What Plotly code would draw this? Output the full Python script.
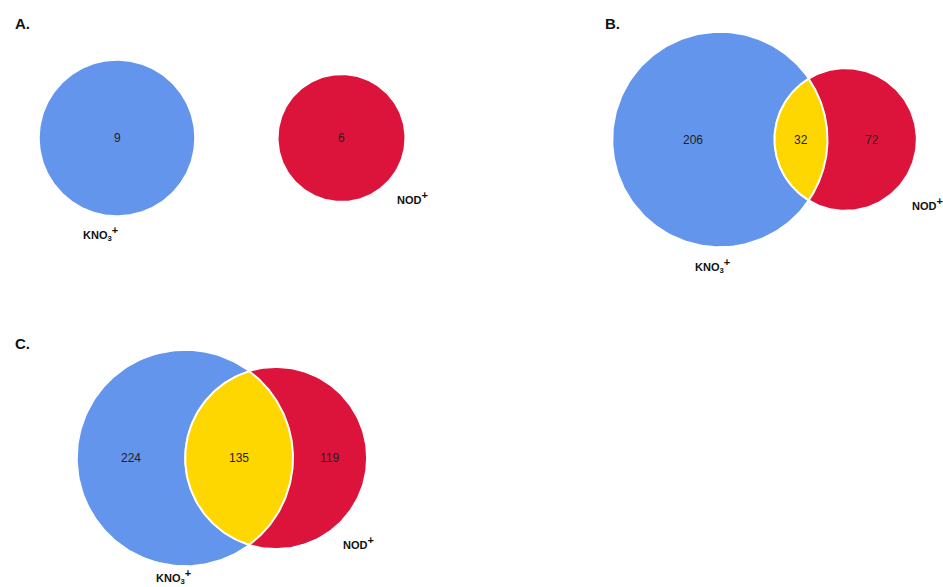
import numpy as np
import plotly.graph_objects as go

# ---------------- data ----------------
panel_letters = ["A.", "B.", "C."]
kno3_only = [9, 206, 224]
overlap = [0, 32, 135]
nod_only = [6, 72, 119]
PLUS = "<sup><span style='font-size:11px'>+</span></sup>"
set_names = ["KNO<sub>3</sub>" + PLUS, "NOD" + PLUS]

# ---------------- layout / style ----------------
W, H = 943, 587
BLUE, RED, GOLD = "#6495ED", "#DC143C", "#FFD700"
FONT = "Liberation Sans, Arial, sans-serif"

# center distances (px) between the two circles of each panel
panel_cfg = [
    dict(letter=(13, 23), center=(117, 138), r_big=78, dist=224.5,
         lab1=(-17, 95), lab2=(71, 59)),
    dict(letter=(603, 23), center=(720, 139.5), r_big=107.5, dist=125.5,
         lab1=(-8, 126), lab2=(82, 64)),
    dict(letter=(13, 343), center=(185, 458), r_big=108, dist=91,
         lab1=(-12, 118), lab2=(82, 84)),
]


def circle_xy(cx, cy, r, n=240):
    t = np.linspace(0, 2 * np.pi, n)
    return cx + r * np.cos(t), cy + r * np.sin(t)


fig = go.Figure()
annotations = []

for i, cfg in enumerate(panel_cfg):
    a_only, ab, b_only = kno3_only[i], overlap[i], nod_only[i]
    tot1, tot2 = a_only + ab, b_only + ab
    r1 = cfg["r_big"]
    scale = r1 / np.sqrt(tot1)          # area-proportional circles
    r2 = scale * np.sqrt(tot2)
    c1x, c1y = cfg["center"]
    d = cfg["dist"]
    c2x, c2y = c1x + d, c1y

    for (cx, cy, r, col) in [(c1x, c1y, r1, BLUE), (c2x, c2y, r2, RED)]:
        x, y = circle_xy(cx, cy, r)
        fig.add_trace(go.Scatter(x=x, y=y, mode="lines", fill="toself",
                                 fillcolor=col, line=dict(color="white", width=1.5),
                                 hoverinfo="skip", showlegend=False))

    if ab > 0 and d < r1 + r2:
        x0 = (d * d + r1 * r1 - r2 * r2) / (2 * d)
        h = np.sqrt(r1 * r1 - x0 * x0)
        al = np.arctan2(h, x0)
        be = np.arctan2(h, d - x0)
        t1 = np.linspace(-al, al, 120)
        t2 = np.linspace(np.pi - be, np.pi + be, 120)
        lx = np.concatenate([c1x + r1 * np.cos(t1), c2x + r2 * np.cos(t2)])
        ly = np.concatenate([c1y + r1 * np.sin(t1), c2y + r2 * np.sin(t2)])
        lx = np.append(lx, lx[0]); ly = np.append(ly, ly[0])
        fig.add_trace(go.Scatter(x=lx, y=ly, mode="lines", fill="toself",
                                 fillcolor=GOLD, line=dict(color="white", width=2),
                                 hoverinfo="skip", showlegend=False))
        lens_l, lens_r = c2x - r2, c1x + r1
        pos = [((c1x - r1 + lens_l) / 2, a_only),
               ((lens_l + lens_r) / 2, ab),
               ((lens_r + c2x + r2) / 2, b_only)]
    else:
        pos = [(c1x, a_only), (c2x, b_only)]

    for px, val in pos:
        annotations.append(dict(x=px, y=c1y, text=str(val), showarrow=False,
                                xref="x", yref="y",
                                font=dict(family=FONT, size=12, color="#222")))

    # set labels
    annotations.append(dict(x=c1x + cfg["lab1"][0], y=c1y + cfg["lab1"][1],
                            text="<b>" + set_names[0] + "</b>", showarrow=False,
                            xref="x", yref="y",
                            font=dict(family=FONT, size=11, color="#111")))
    annotations.append(dict(x=c2x + cfg["lab2"][0], y=c2y + cfg["lab2"][1],
                            text="<b>" + set_names[1] + "</b>", showarrow=False,
                            xref="x", yref="y", xanchor="center",
                            font=dict(family=FONT, size=11, color="#111")))
    # panel letter
    annotations.append(dict(x=cfg["letter"][0], y=cfg["letter"][1],
                            text="<b>" + panel_letters[i] + "</b>", showarrow=False,
                            xref="x", yref="y", xanchor="left",
                            font=dict(family=FONT, size=15, color="#111")))

fig.update_layout(
    width=W, height=H,
    margin=dict(l=0, r=0, t=0, b=0),
    paper_bgcolor="white", plot_bgcolor="white",
    xaxis=dict(range=[0, W], visible=False, fixedrange=True),
    yaxis=dict(range=[H, 0], visible=False, fixedrange=True),
    annotations=annotations,
    showlegend=False,
)

fig.write_html("out.html", config=dict(displayModeBar=False))
